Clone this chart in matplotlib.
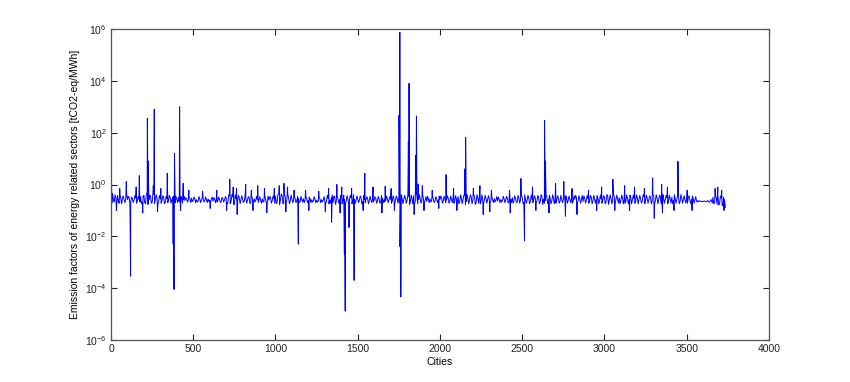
import matplotlib
matplotlib.use("Agg")
import matplotlib.pyplot as plt
import matplotlib.ticker as mticker
import numpy as np

plt.rcParams['font.family'] = ['Liberation Sans', 'DejaVu Sans']

# baseline emission factor, read roughly every 10 cities (0 .. 3730)
baseline = [
    .32, .45, .21, .30, .38, .19, .27, .33, .24, .29,
    .26, .31, .22, .28, .25, .30, .23, .27, .34, .21,
    .38, .18, .47, .25, .36, .20, .42, .27, .31, .23,
    .28, .24, .33, .21, .29, .26, .31, .25, .36, .20,
    .27, .32, .23, .29, .26, .24, .28, .25, .27, .30,
    .24, .28, .26, .23, .27, .25, .29, .24, .26, .28,
    .25, .27, .23, .28, .26, .24, .27, .22, .29, .25,
    .31, .19, .37, .22, .33, .17, .28, .24, .30, .26,
    .27, .23, .29, .25, .31, .22, .26, .28, .24, .27,
    .26, .24, .28, .22, .27, .19, .25, .32, .23, .29,
    .36, .21, .42, .25, .38, .19, .33, .27, .30, .24,
    .28, .23, .27, .25, .29, .22, .26, .28, .25, .27,
    .24, .28, .26, .23, .27, .25, .22, .28, .26, .24,
    .27, .22, .29, .25, .31, .20, .34, .23, .28, .26,
    .30, .24, .27, .22, .29, .26, .31, .23, .27, .25,
    .28, .24, .32, .22, .27, .25, .29, .23, .26, .28,
    .25, .29, .23, .27, .21, .30, .26, .24, .28, .25,
    .27, .23, .30, .25, .28, .33, .22, .29, .26, .31,
    .24, .35, .21, .29, .37, .23, .32, .26, .28, .24,
    .27, .25, .22, .26, .28, .24, .27, .23, .29, .25,
    .26, .31, .23, .28, .25, .30, .22, .27, .32, .24,
    .28, .34, .21, .31, .25, .37, .22, .29, .26, .33,
    .24, .36, .20, .30, .38, .22, .27, .25, .28, .26,
    .27, .24, .26, .28, .25, .23, .27, .26, .24, .28,
    .25, .29, .22, .27, .31, .24, .28, .21, .30, .26,
    .33, .20, .28, .25, .30, .23, .27, .26, .29, .24,
    .31, .22, .35, .27, .24, .33, .26, .29, .23, .30,
    .27, .25, .30, .22, .28, .26, .24, .29, .25, .27,
    .29, .23, .27, .31, .24, .28, .26, .22, .30, .25,
    .28, .24, .32, .23, .29, .26, .31, .22, .28, .25,
    .33, .21, .36, .25, .30, .23, .34, .26, .28, .31,
    .24, .32, .27, .22, .30, .26, .33, .25, .29, .23,
    .31, .26, .28, .23, .34, .25, .29, .27, .32, .22,
    .36, .24, .30, .27, .33, .21, .29, .26, .31, .25,
    .28, .32, .24, .29, .26, .34, .22, .30, .27, .25,
    .28, .31, .24, .27, .29, .25, .23, .24, .23, .22,
    .22, .23, .22, .24, .21, .26, .32, .20, .29, .35,
    .18, .30, .15, .26,
]
baseline_city = [10 * i for i in range(len(baseline))]

# values in between (cities 5, 15, 25, ...), giving the jagged band
baseline_mid = [
    .19, .24, .40, .17, .22, .41, .18, .36, .20, .42,
    .35, .18, .33, .20, .37, .19, .34, .21, .18, .36,
    .20, .44, .17, .39, .19, .45, .18, .40, .17, .38,
    .19, .37, .18, .35, .20, .38, .19, .33, .18, .35,
    .20, .22, .34, .19, .35, .31, .21, .33, .20, .22,
    .33, .20, .21, .34, .20, .32, .21, .33, .20, .22,
    .20, .33, .31, .20, .21, .33, .20, .32, .21, .34,
    .20, .40, .18, .41, .17, .39, .19, .38, .18, .37,
    .20, .35, .19, .34, .18, .36, .20, .21, .35, .20,
    .34, .19, .21, .35, .19, .36, .34, .19, .36, .19,
    .18, .41, .17, .43, .18, .40, .19, .41, .18, .39,
    .20, .35, .20, .34, .20, .35, .21, .20, .34, .20,
    .33, .20, .21, .34, .20, .21, .33, .20, .21, .34,
    .19, .38, .18, .19, .40, .36, .17, .39, .19, .37,
    .18, .39, .19, .37, .18, .38, .18, .40, .19, .36,
    .20, .36, .18, .37, .20, .34, .18, .35, .20, .21,
    .34, .19, .35, .19, .37, .20, .21, .36, .20, .34,
    .19, .37, .18, .36, .19, .20, .40, .18, .38, .19,
    .41, .17, .39, .18, .17, .42, .18, .40, .19, .38,
    .20, .34, .35, .20, .21, .35, .20, .34, .20, .35,
    .36, .19, .35, .20, .37, .19, .36, .20, .19, .37,
    .19, .18, .40, .18, .39, .17, .41, .18, .40, .18,
    .39, .17, .41, .19, .18, .40, .18, .38, .19, .37,
    .20, .34, .20, .21, .34, .33, .20, .21, .35, .20,
    .35, .19, .36, .20, .19, .37, .20, .38, .19, .36,
    .18, .40, .19, .38, .18, .39, .20, .37, .19, .38,
    .18, .41, .17, .19, .40, .18, .39, .18, .40, .18,
    .19, .37, .19, .38, .20, .36, .37, .19, .36, .20,
    .19, .37, .38, .19, .37, .19, .38, .36, .19, .37,
    .19, .38, .18, .38, .19, .37, .18, .39, .19, .37,
    .18, .41, .17, .40, .18, .42, .18, .39, .19, .18,
    .39, .18, .19, .40, .18, .39, .18, .38, .19, .40,
    .18, .38, .19, .40, .18, .39, .19, .37, .18, .41,
    .18, .40, .18, .39, .18, .41, .19, .38, .18, .39,
    .19, .18, .40, .19, .38, .18, .41, .19, .37, .19,
    .19, .37, .18, .36, .19, .34, .21, .22, .23, .22,
    .23, .22, .23, .21, .24, .19, .18, .38, .17, .16,
    .36, .16, .33, .13,
]
mid_city = [10 * i + 5 for i in range(len(baseline_mid))]

# large outliers (city index, value)
peak_city = [3, 93, 172, 221, 226, 263, 342, 386, 417, 439, 722, 819, 892, 1051,
             1373, 1543, 1667, 1751, 1756, 1808, 1812, 1852, 1857, 1868, 2037,
             2151, 2156, 2492, 2636, 2641, 2753, 3051, 3293, 3348, 3447, 3689]
peak_val = [1.6, 1.3, 2.2, 350, 8, 800, 2.7, 16, 1000, 1.1, 1.6, 1.0, 0.9, 1.1,
            1.0, 2.7, 0.85, 470, 7.5e5, 44, 8000, 13, 440, 1.05, 2.4,
            4, 65, 1.7, 300, 8, 1.3, 1.6, 1.8, 1.0, 7.8, 0.8]

dip_city = [119, 378, 383, 1139, 1419, 1424, 1447, 1478, 1757, 1762, 2514]
dip_val = [2.9e-4, 5e-3, 9e-5, 5e-3, 2e-3, 1.3e-5, 0.022, 2e-4, 4e-3, 4.6e-5, 6.7e-3]

# smaller spikes around the baseline
minor_city = [53, 153, 257, 303, 473, 557, 643, 743, 763, 853, 933, 993, 1023,
              1073, 1113, 1183, 1263, 1323, 1403, 1463, 1593, 1703, 1893, 1953,
              2083, 2203, 2243, 2313, 2423, 2563, 2703, 2803, 2903, 2983, 3123,
              3183, 3243, 3383, 3503, 3673, 3713,
              33, 193, 283, 423, 603, 703, 767, 863, 947, 1063, 1203, 1303, 1341,
              1393, 1533, 1647, 1723, 1843, 1903, 1993, 2103, 2263, 2303, 2427,
              2583, 2663, 2763, 2833, 2953, 3063, 3153, 3303, 3353, 3423, 3533, 3727]
minor_val = [0.7, 0.8, 0.9, 0.7, 0.6, 0.55, 0.6, 0.8, 0.7, 0.6, 0.7, 0.7, 0.9,
             0.8, 0.6, 0.6, 0.55, 0.7, 0.8, 0.7, 0.8, 0.7, 0.9, 0.6,
             0.7, 0.7, 0.9, 0.6, 0.6, 0.8, 1.1, 0.7, 0.6, 0.8, 0.9,
             0.8, 0.7, 0.8, 0.6, 0.7, 0.6,
             0.1, 0.08, 0.09, 0.1, 0.12, 0.1, 0.07, 0.1, 0.08, 0.09, 0.1, 0.09, 0.035,
             0.08, 0.1, 0.08, 0.1, 0.07, 0.1, 0.12, 0.1, 0.07, 0.09, 0.08,
             0.1, 0.08, 0.06, 0.07, 0.1, 0.1, 0.1, 0.05, 0.08, 0.1, 0.1, 0.1]

x = np.array(baseline_city + mid_city + peak_city + dip_city + minor_city, dtype=float)
y = np.array(baseline + baseline_mid + peak_val + dip_val + minor_val, dtype=float)
order = np.argsort(x, kind="stable")
x, y = x[order], y[order]

fig = plt.figure(figsize=(8.5, 3.82), dpi=100)
ax = fig.add_axes([0.1306, 0.110, 0.774, 0.814])
ax.plot(x, y, color="#0000ff", lw=0.7)

ax.set_yscale("log")
ax.set_xlim(0, 4000)
ax.set_ylim(1e-6, 1e6)
ax.xaxis.set_major_locator(mticker.MultipleLocator(500))
ax.yaxis.set_major_locator(mticker.FixedLocator([1e-6, 1e-4, 1e-2, 1e0, 1e2, 1e4, 1e6]))
ax.yaxis.set_minor_locator(mticker.NullLocator())
ax.tick_params(direction="in", top=True, right=True, length=4, width=0.8,
               labelsize=7.5, colors="#222222", pad=3)
for s in ax.spines.values():
    s.set_color("#555555")
    s.set_linewidth(0.9)

ax.set_xlabel("Cities", fontsize=7.5, labelpad=2)
ax.set_ylabel("Emission factors of energy related sectors [tCO2-eq/MWh]", fontsize=7.5, labelpad=4)

fig.savefig("out.png", dpi=100)
